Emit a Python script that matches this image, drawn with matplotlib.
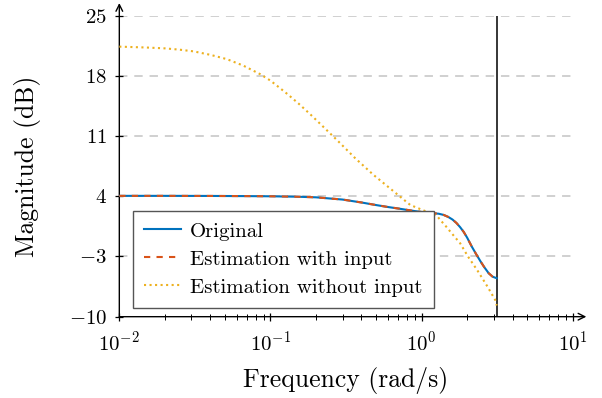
import matplotlib
matplotlib.use('Agg')
import matplotlib.pyplot as plt
import numpy as np

# ---------------- data ----------------
freq_orig = [0.01, 0.02, 0.04, 0.07, 0.1, 0.15, 0.2, 0.3, 0.4, 0.5, 0.6, 0.7, 0.8, 0.9,
             1.0, 1.1, 1.2, 1.3, 1.4, 1.5, 1.6, 1.7, 1.8, 1.9, 2.0, 2.15, 2.3, 2.45,
             2.6, 2.78, 2.95, 3.1416]
mag_orig = [4.05, 4.05, 4.04, 4.02, 4.0, 3.95, 3.88, 3.62, 3.28, 2.98, 2.75, 2.58, 2.42, 2.28,
            2.17, 2.09, 2.03, 1.97, 1.83, 1.6, 1.3, 0.9, 0.4, -0.15, -0.8, -1.86, -2.75, -3.55,
            -4.25, -4.95, -5.35, -5.53]
freq_est_in = freq_orig
mag_est_in = [4.05, 4.05, 4.04, 4.02, 4.0, 3.95, 3.88, 3.62, 3.28, 2.98, 2.75, 2.58, 2.42, 2.28,
              2.17, 2.09, 2.03, 1.97, 1.83, 1.6, 1.3, 0.9, 0.4, -0.15, -0.8, -1.86, -2.75, -3.55,
              -4.25, -4.95, -5.35, -5.53]
freq_est_noin = [0.01, 0.015, 0.02, 0.025, 0.031, 0.04, 0.0514, 0.066, 0.0855, 0.1, 0.116,
                 0.13, 0.153, 0.183, 0.22, 0.278, 0.364, 0.481, 0.637, 0.841, 1.0, 1.14,
                 1.26, 1.33, 1.45, 1.55, 1.8, 2.03, 2.33, 2.73, 3.07, 3.1416]
mag_est_noin = [21.4, 21.3, 21.2, 21.05, 20.85, 20.45, 19.95, 19.2, 18.2, 17.45, 16.56,
                15.86, 14.8, 13.55, 12.2, 10.47, 8.42, 6.48, 4.73, 2.99, 2.45, 2.05,
                1.75, 1.24, 0.5, -0.12, -1.47, -3.02, -4.57, -6.51, -8.06, -8.7]
nyquist = np.pi
yticks = [-10, -3, 4, 11, 18, 25]
labels = ['Original', 'Estimation with input', 'Estimation without input']

# ---------------- style ----------------
plt.rcParams.update({
    'font.family': 'serif',
    'font.serif': ['cmr10'],
    'mathtext.fontset': 'cm',
    'axes.formatter.use_mathtext': True,
    'axes.unicode_minus': True,
})

fig = plt.figure(figsize=(6.02, 3.98), dpi=100)
ax = fig.add_axes([0.1982, 0.2043, 0.7532, 0.7563])

ax.set_xscale('log')
ax.set_xlim(1e-2, 1e1)
ax.set_ylim(-10, 25)
ax.set_yticks(yticks)

ax.yaxis.grid(True, color='#c4c4c4', linestyle=(0, (5.5, 4.5)), lw=1.1)
ax.set_axisbelow(True)

for s in ['top', 'right', 'left', 'bottom']:
    ax.spines[s].set_visible(False)

ax.annotate('', xy=(1.03, 0), xytext=(0, 0), xycoords='axes fraction',
            arrowprops=dict(arrowstyle='->', lw=1.0, color='black',
                            shrinkA=0, shrinkB=0, mutation_scale=12), annotation_clip=False)
ax.annotate('', xy=(0, 1.042), xytext=(0, 0), xycoords='axes fraction',
            arrowprops=dict(arrowstyle='->', lw=1.0, color='black',
                            shrinkA=0, shrinkB=0, mutation_scale=12), annotation_clip=False)

ax.tick_params(axis='both', which='major', direction='inout', length=6, width=0.9,
               labelsize=15, color='black')
ax.tick_params(axis='x', which='minor', direction='inout', length=4, width=0.7)
ax.tick_params(axis='x', which='major', pad=7)
ax.tick_params(axis='y', which='major', pad=6)
ax.tick_params(top=False, right=False)

ax.axvline(nyquist, color='black', lw=1.1, zorder=3)

ax.plot(freq_orig, mag_orig, color='#0072BD', lw=1.5, label=labels[0], zorder=4)
ax.plot(freq_est_in, mag_est_in, color='#D95319', lw=1.5, dashes=(3, 3),
        label=labels[1], zorder=5)
ax.plot(freq_est_noin, mag_est_noin, color='#EDB120', lw=1.5, linestyle=':',
        label=labels[2], zorder=4)

leg = ax.legend(loc='lower left', bbox_to_anchor=(0.030, 0.029), borderaxespad=0,
                fontsize=15, fancybox=False, framealpha=1, edgecolor='#555555',
                handlelength=1.75, handletextpad=0.45, labelspacing=0.45, borderpad=0.55)
leg.get_frame().set_linewidth(1.0)
leg.set_zorder(6)

ax.set_xlabel('Frequency (rad/s)', fontsize=18.5, labelpad=9)
ax.set_ylabel('Magnitude (dB)', fontsize=18.5, labelpad=20)

fig.savefig('out.png', dpi=100)
